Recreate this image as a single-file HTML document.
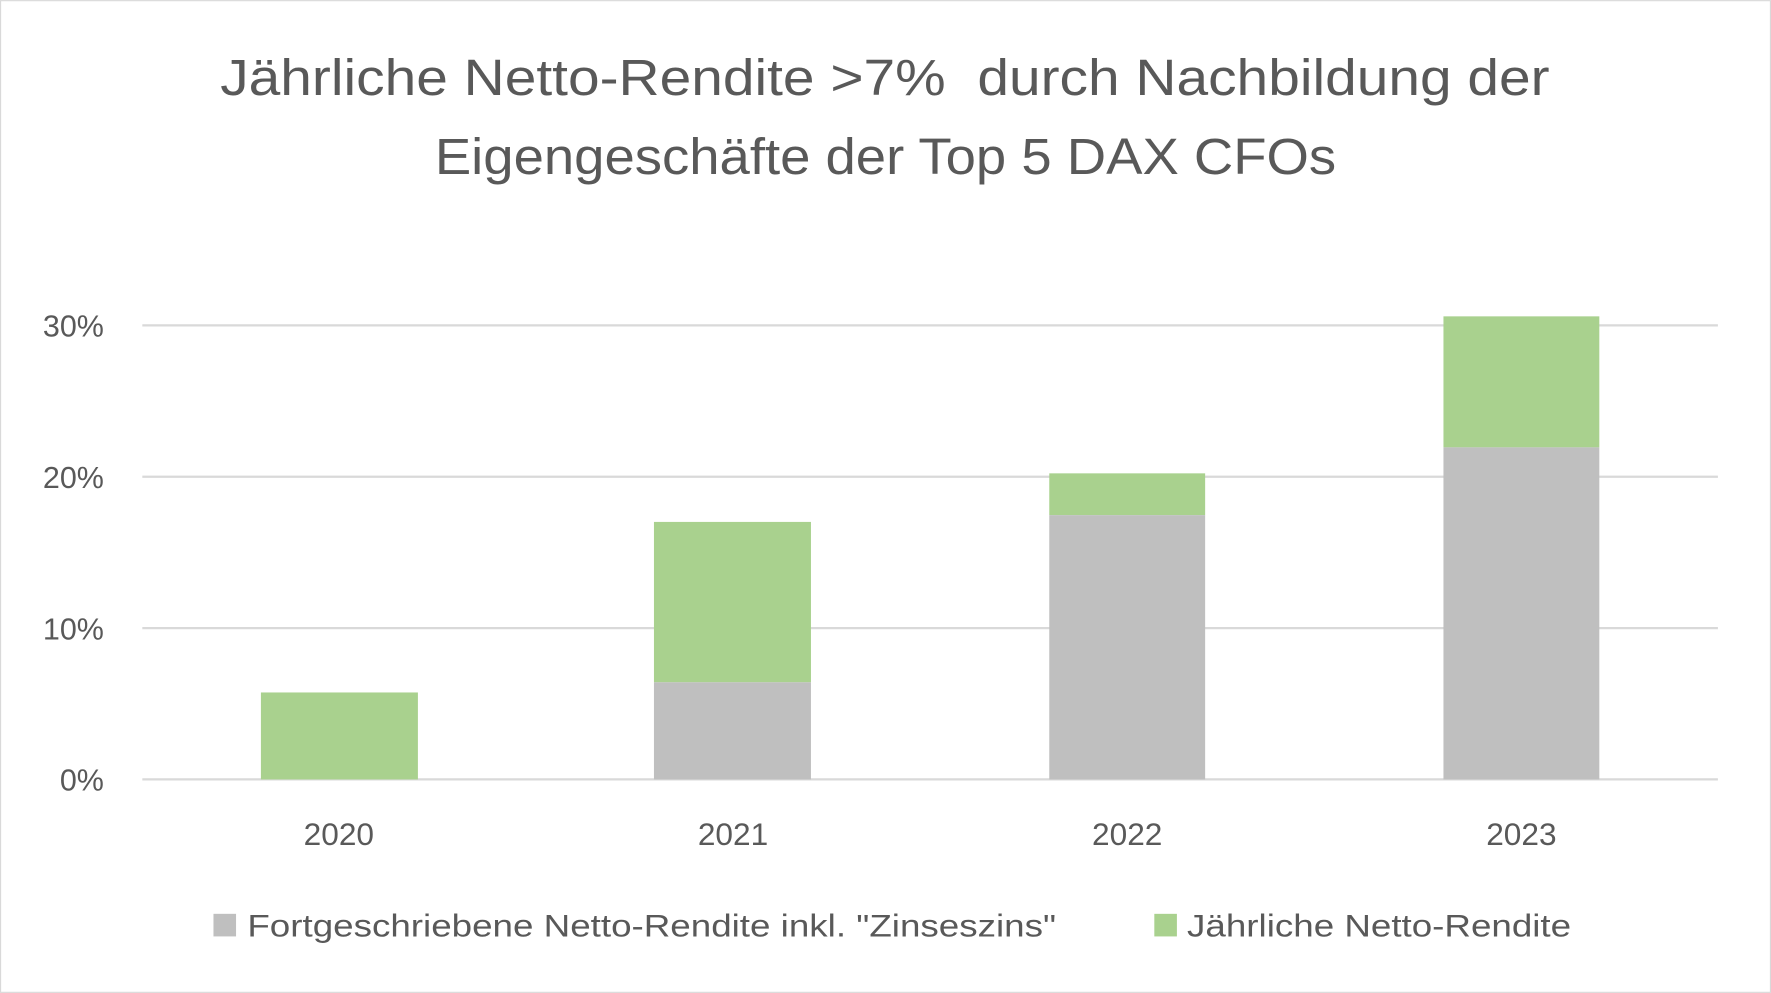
<!DOCTYPE html>
<html><head><meta charset="utf-8"><style>html,body{margin:0;padding:0;background:#fff}svg{display:block}</style></head>
<body>
<svg width="1771" height="993" viewBox="0 0 1568 879" xmlns="http://www.w3.org/2000/svg" font-family="'Liberation Sans', sans-serif" fill="#595959">
<rect x="0.5" y="0.5" width="1567" height="878" fill="#fff" stroke="#d9d9d9"/>
<text x="195" y="84" font-size="45" textLength="1177" lengthAdjust="spacingAndGlyphs">Jährliche Netto-Rendite &gt;7%&#160; durch Nachbildung der</text>
<text x="385" y="154" font-size="45" textLength="798" lengthAdjust="spacingAndGlyphs">Eigengeschäfte der Top 5 DAX CFOs</text>
<g stroke="#d9d9d9" stroke-width="2">
<line x1="126" x2="1521" y1="288" y2="288"/>
<line x1="126" x2="1521" y1="422" y2="422"/>
<line x1="126" x2="1521" y1="556" y2="556"/>
<line x1="126" x2="1521" y1="690" y2="690"/>
</g>
<g font-size="27" text-anchor="end">
<text x="92" y="298">30%</text>
<text x="92" y="432">20%</text>
<text x="92" y="566">10%</text>
<text x="92" y="700">0%</text>
</g>
<g fill="#a9d18e">
<rect x="231" y="613" width="139" height="77"/>
<rect x="579" y="462" width="139" height="142"/>
<rect x="929" y="419" width="138" height="37"/>
<rect x="1278" y="280" width="138" height="116"/>
</g>
<g fill="#bfbfbf">
<rect x="579" y="604" width="139" height="86"/>
<rect x="929" y="456" width="138" height="234"/>
<rect x="1278" y="396" width="138" height="294"/>
</g>
<g font-size="28" text-anchor="middle">
<text x="300" y="748">2020</text>
<text x="649" y="748">2021</text>
<text x="998" y="748">2022</text>
<text x="1347" y="748">2023</text>
</g>
<rect x="189" y="809" width="20" height="20" fill="#bfbfbf"/>
<text x="219" y="829" font-size="28" textLength="716" lengthAdjust="spacingAndGlyphs">Fortgeschriebene Netto-Rendite inkl. "Zinseszins"</text>
<rect x="1022" y="809" width="20" height="20" fill="#a9d18e"/>
<text x="1051" y="829" font-size="28" textLength="340" lengthAdjust="spacingAndGlyphs">Jährliche Netto-Rendite</text>
</svg>
</body></html>
